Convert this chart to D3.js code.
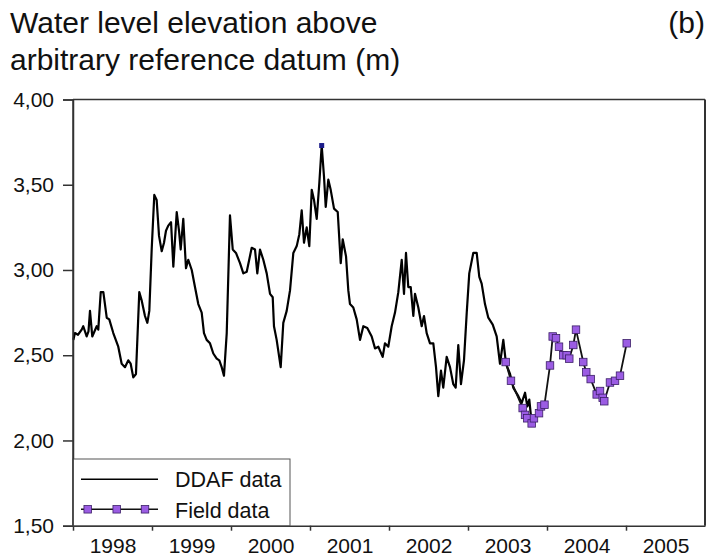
<!DOCTYPE html>
<html>
<head>
<meta charset="utf-8">
<script src="https://cdn.jsdelivr.net/npm/d3@7"></script>
<style>
  html, body { margin: 0; padding: 0; background: #fff; }
  svg { display: block; font-family: "Liberation Sans", Arial, Helvetica, sans-serif; }
</style>
</head>
<body>
<svg id="chart" width="709" height="558"></svg>
<script>
// ---- Data (decimal years, metres) ----
const ddafYears = [
  1998.004,1998.025,1998.063,1998.110,1998.130,1998.173,1998.196,1998.215,1998.244,1998.300,
  1998.320,1998.351,1998.384,1998.427,1998.459,1998.510,1998.573,1998.616,1998.658,1998.700,
  1998.730,1998.763,1998.797,1998.839,1998.870,1998.911,1998.941,1998.966,1998.996,1999.029,
  1999.059,1999.089,1999.123,1999.152,1999.177,1999.206,1999.241,1999.270,1999.313,1999.342,
  1999.363,1999.396,1999.430,1999.459,1999.503,1999.544,1999.586,1999.629,1999.658,1999.692,
  1999.734,1999.776,1999.819,1999.852,1999.882,1999.911,1999.946,1999.987,2000.022,2000.063,
  2000.114,2000.156,2000.199,2000.262,2000.304,2000.333,2000.367,2000.409,2000.452,2000.494,
  2000.528,2000.544,2000.578,2000.629,2000.662,2000.705,2000.747,2000.789,2000.832,2000.865,
  2000.895,2000.924,2000.958,2000.991,2001.022,2001.051,2001.085,2001.118,2001.148,2001.177,
  2001.199,2001.232,2001.262,2001.304,2001.351,2001.389,2001.414,2001.456,2001.485,2001.506,
  2001.548,2001.591,2001.633,2001.675,2001.725,2001.781,2001.823,2001.865,2001.920,2001.949,
  2001.991,2002.034,2002.076,2002.118,2002.161,2002.190,2002.215,2002.244,2002.275,2002.308,
  2002.329,2002.371,2002.414,2002.443,2002.477,2002.519,2002.561,2002.595,2002.624,2002.658,
  2002.687,2002.730,2002.772,2002.814,2002.844,2002.877,2002.911,2002.949,2002.984,2003.016,
  2003.067,2003.110,2003.143,2003.173,2003.215,2003.257,2003.313,2003.363,2003.405,2003.447,
  2003.481,2003.532,2003.573,2003.637,2003.680,2003.722,2003.751,2003.776,2003.806
];
const ddafLevels = [
  2.59,2.63,2.62,2.65,2.67,2.61,2.64,2.76,2.61,2.67,
  2.65,2.87,2.87,2.72,2.71,2.63,2.55,2.45,2.43,2.47,
  2.45,2.37,2.39,2.87,2.82,2.73,2.69,2.76,3.12,3.44,
  3.41,3.20,3.11,3.16,3.23,3.26,3.28,3.02,3.34,3.23,
  3.12,3.30,3.01,3.06,3.00,2.90,2.80,2.75,2.63,2.59,
  2.57,2.51,2.48,2.47,2.43,2.38,2.63,3.32,3.12,3.10,
  3.04,2.98,2.99,3.13,3.12,2.98,3.12,3.06,2.98,2.86,
  2.84,2.67,2.59,2.43,2.69,2.76,2.88,3.10,3.14,3.21,
  3.35,3.16,3.25,3.14,3.47,3.41,3.30,3.51,3.73,3.55,
  3.37,3.53,3.47,3.36,3.34,3.04,3.18,3.08,2.88,2.80,
  2.78,2.71,2.59,2.67,2.66,2.61,2.54,2.55,2.49,2.57,
  2.55,2.67,2.75,2.87,3.06,2.86,3.10,2.90,2.90,2.73,
  2.86,2.78,2.67,2.73,2.63,2.57,2.57,2.43,2.26,2.41,
  2.31,2.49,2.43,2.33,2.31,2.56,2.33,2.47,2.75,2.98,
  3.10,3.10,2.96,2.92,2.80,2.72,2.68,2.61,2.45,2.59,
  2.45,2.39,2.31,2.26,2.22,2.28,2.20,2.24,2.10
];
const fieldYears = [
  2003.477,2003.544,2003.692,2003.722,2003.751,2003.806,2003.835,2003.899,2003.924,2003.968,
  2004.038,2004.072,2004.114,2004.152,2004.206,2004.249,2004.282,2004.333,2004.367,2004.459,
  2004.497,2004.553,2004.629,2004.671,2004.705,2004.725,2004.797,2004.861,2004.924,2005.009
];
const fieldLevels = [
  2.46,2.35,2.19,2.15,2.13,2.10,2.13,2.16,2.20,2.21,
  2.44,2.61,2.60,2.55,2.50,2.50,2.48,2.56,2.65,2.46,
  2.40,2.36,2.27,2.29,2.25,2.23,2.34,2.35,2.38,2.57
];
const peakYear = [2001.148];
const peakLevel = [3.73];
const yearTicks = [1998,1999,2000,2001,2002,2003,2004,2005];
const yearLabels = ["1998","1999","2000","2001","2002","2003","2004","2005"];
const levelTicks = [1.5,2.0,2.5,3.0,3.5,4.0];
const titleLines = ["Water level elevation above","arbitrary reference datum (m)"];
const panelLabel = "(b)";
const legendNames = ["DDAF data","Field data"];

(function () {
// ---- Layout ----
const W = 709, H = 558;
const pL = 73, pR = 705, pT = 99.5, pB = 525.7;
const svg = d3.select("#chart");
svg.append("rect").attr("width", W).attr("height", H).attr("fill", "#fff");

const x = d3.scaleLinear().domain([1998, 2006]).range([pL, pR]);
const y = d3.scaleLinear().domain([1.5, 4.0]).range([pB, pT]);
const locale = d3.formatLocale({decimal: ",", thousands: ".", grouping: [3], currency: ["", ""]});
const fmt = locale.format(".2f");

// Title
const title = svg.append("g").attr("fill", "#111").style("font-size", "30px");
titleLines.forEach((t, i) => {
  title.append("text").attr("x", 10).attr("y", 33 + i * 37).text(t);
});
svg.append("text").attr("x", 705).attr("y", 33).attr("text-anchor", "end")
  .attr("fill", "#111").style("font-size", "30px").text(panelLabel);

// Frame
const frameColor = "#333";
svg.append("line").attr("x1", pL).attr("x2", pR).attr("y1", pT).attr("y2", pT)
  .attr("stroke", frameColor).attr("stroke-width", 1.5);
svg.append("line").attr("x1", pR).attr("x2", pR).attr("y1", pT).attr("y2", pB)
  .attr("stroke", frameColor).attr("stroke-width", 2);

// Y axis
const yAxis = svg.append("g").attr("transform", `translate(${pL},0)`)
  .call(d3.axisLeft(y).tickValues(levelTicks).tickFormat(fmt).tickSize(10).tickPadding(9));
yAxis.select(".domain").attr("stroke", frameColor).attr("stroke-width", 1.5);
yAxis.selectAll(".tick line").attr("stroke", frameColor).attr("stroke-width", 1.5);
yAxis.selectAll(".tick text").attr("fill", "#111").style("font-size", "21px")
  .style("font-family", "'Liberation Sans', Arial, sans-serif");

// X axis (ticks at year boundaries)
const xAxis = svg.append("g").attr("transform", `translate(0,${pB})`)
  .call(d3.axisBottom(x).tickValues(yearTicks).tickFormat("").tickSize(5).tickSizeOuter(0));
xAxis.select(".domain").attr("stroke", frameColor).attr("stroke-width", 1.5);
xAxis.selectAll(".tick line").attr("stroke", frameColor).attr("stroke-width", 1.5);
// Year labels centred in each year
const xLab = svg.append("g").attr("transform", `translate(0,${pB})`)
  .call(d3.axisBottom(x).tickValues(yearTicks.map(d => d + 0.5))
    .tickFormat((d, i) => yearLabels[i]).tickSize(0).tickPadding(12));
xLab.select(".domain").remove();
xLab.selectAll(".tick text").attr("fill", "#111").style("font-size", "21px")
  .style("font-family", "'Liberation Sans', Arial, sans-serif");

// DDAF line
const ddaf = ddafYears.map((t, i) => [t, ddafLevels[i]]);
const field = fieldYears.map((t, i) => [t, fieldLevels[i]]);
const line = d3.line().x(d => x(d[0])).y(d => y(d[1]));
svg.append("path").datum(ddaf).attr("d", line).attr("fill", "none")
  .attr("stroke", "#000").attr("stroke-width", 2.2).attr("stroke-linejoin", "round");

// Field line + markers
svg.append("path").datum(field).attr("d", line).attr("fill", "none")
  .attr("stroke", "#111").attr("stroke-width", 1.8);
const ms = 7.5;
svg.append("g").selectAll("rect").data(field).join("rect")
  .attr("x", d => x(d[0]) - ms / 2).attr("y", d => y(d[1]) - ms / 2)
  .attr("width", ms).attr("height", ms)
  .attr("fill", "#9b5ce3").attr("stroke", "#3b1f66").attr("stroke-width", 0.8);

// Peak marker
svg.append("g").selectAll("rect").data(peakYear.map((t, i) => [t, peakLevel[i]])).join("rect")
  .attr("x", d => x(d[0]) - 2.5).attr("y", d => y(d[1]) - 2.5)
  .attr("width", 5).attr("height", 5).attr("fill", "#1c1c8a");

// Legend
const lg = svg.append("g");
lg.append("rect").attr("x", pL).attr("y", 459).attr("width", 290 - pL).attr("height", pB - 459)
  .attr("fill", "#fff").attr("stroke", "#555").attr("stroke-width", 1);
lg.append("line").attr("x1", 81).attr("x2", 158).attr("y1", 479.3).attr("y2", 479.3)
  .attr("stroke", "#000").attr("stroke-width", 1.6);
lg.append("line").attr("x1", 81).attr("x2", 158).attr("y1", 509.3).attr("y2", 509.3)
  .attr("stroke", "#111").attr("stroke-width", 1.6);
[87.7, 116.7, 145].forEach(cx => {
  lg.append("rect").attr("x", cx - ms / 2).attr("y", 509.3 - ms / 2).attr("width", ms).attr("height", ms)
    .attr("fill", "#9b5ce3").attr("stroke", "#3b1f66").attr("stroke-width", 0.8);
});
legendNames.forEach((n, i) => {
  lg.append("text").attr("x", 175).attr("y", 487 + i * 30.5).attr("fill", "#111")
    .style("font-size", "21.5px").text(n);
});
// redraw left axis line over legend box
svg.append("line").attr("x1", pL).attr("x2", pL).attr("y1", pT).attr("y2", pB)
  .attr("stroke", frameColor).attr("stroke-width", 1.5);
})();
</script>
</body>
</html>
